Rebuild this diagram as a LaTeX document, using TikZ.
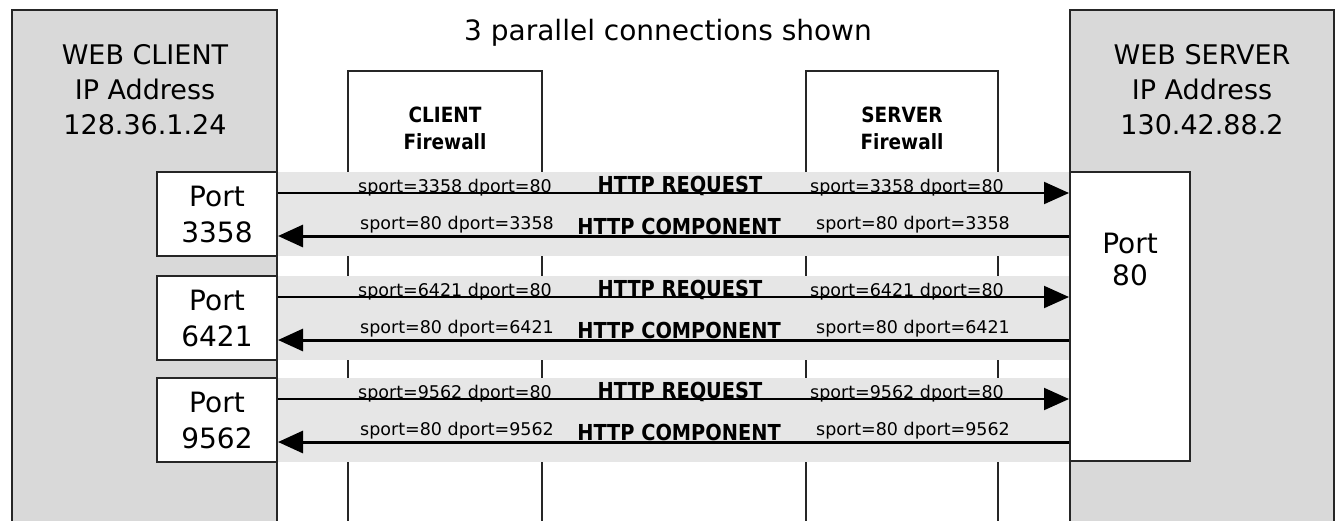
\documentclass[tikz,border=0pt]{standalone}
\usepackage{fontspec}
\setmainfont{DejaVu Sans}
\newfontfamily\condfont[FakeStretch=0.88]{DejaVu Sans}
\usetikzlibrary{arrows.meta}
\definecolor{boxgray}{HTML}{D9D9D9}
\definecolor{bandgray}{HTML}{E6E6E6}
\tikzset{
  hostbox/.style={draw=black!85, line width=2pt, fill=boxgray},
  hosttxt/.style={font=\fontsize{27}{35}\selectfont, align=center},
  portbox/.style={draw=black!85, line width=2pt, fill=white, minimum width=120pt,
    minimum height=84pt, inner sep=0pt, align=center, font=\fontsize{28}{36}\selectfont},
  porttxt/.style={font=\fontsize{28}{32}\selectfont, align=center},
  wall/.style={line width=2.5pt, black!85},
  walltxt/.style={font=\condfont\bfseries\fontsize{21}{27}\selectfont, align=center},
  band/.style={fill=bandgray},
  conn/.style={line width=2pt, -{Triangle[length=25pt,width=22pt]}},
  sporttxt/.style={font=\fontsize{17.5}{20}\selectfont, anchor=base, inner sep=0pt},
  msgtxt/.style={font=\condfont\bfseries\fontsize{22}{26}\selectfont, anchor=base, inner sep=0pt}
}
\begin{document}
\begin{tikzpicture}[x=1pt,y=-1pt]
  \useasboundingbox (0,0) rectangle (1337,520);
  \clip (0,0) rectangle (1337,520);
  \fill[white] (0,0) rectangle (1337,520);
  \node (title) at (668,33) [font=\fontsize{28}{32}\selectfont] {3 parallel connections shown};
  \draw[hostbox] (12,530) -- (12,10) -- (277,10) -- (277,530);
  \draw[hostbox] (1070,530) -- (1070,10) -- (1334,10) -- (1334,530);
  \node[hosttxt] (client) at (145,90) {WEB CLIENT\\IP Address\\128.36.1.24};
  \node[hosttxt] (server) at (1202,90) {WEB SERVER\\IP Address\\130.42.88.2};
  \draw[wall] (348,530) -- (348,71) -- (542,71) -- (542,530);
  \draw[wall] (806,530) -- (806,71) -- (998,71) -- (998,530);
  \node[walltxt] (cfw) at (445,128) {CLIENT\\Firewall};
  \node[walltxt] (sfw) at (902,128) {SERVER\\Firewall};
  \node[portbox, minimum height=289pt] (p80) at (1130,316.5) {};
  \node[porttxt] (p80txt) at (1130,259) {Port\\80};
  \foreach \t/\p in {172/3358,276/6421,378/9562} {
    \fill[band] (277,\t) rectangle (1069,\t+84);
    \node[portbox] (p\p) at (217,\t+42) {Port\\\p};
    \pgfmathsetmacro\ya{\t+21}
    \pgfmathsetmacro\yb{\t+64}
    \draw[conn] (p\p.east |- 0,\ya) -- (p80.west |- 0,\ya);
    \draw[conn, line width=3pt] (p80.west |- 0,\yb) -- (p\p.east |- 0,\yb);
    \node[sporttxt] (rql\p) at (455,\ya-1) {sport=\p{} dport=80};
    \node[msgtxt] (rqm\p) at (680,\ya-1) {HTTP REQUEST};
    \node[sporttxt] (rqr\p) at (907,\ya-1) {sport=\p{} dport=80};
    \node[sporttxt] (rsl\p) at (457,\yb-7) {sport=80 dport=\p};
    \node[msgtxt] (rsm\p) at (679,\yb-2) {HTTP COMPONENT};
    \node[sporttxt] (rsr\p) at (913,\yb-7) {sport=80 dport=\p};
  }
\end{tikzpicture}
\end{document}
